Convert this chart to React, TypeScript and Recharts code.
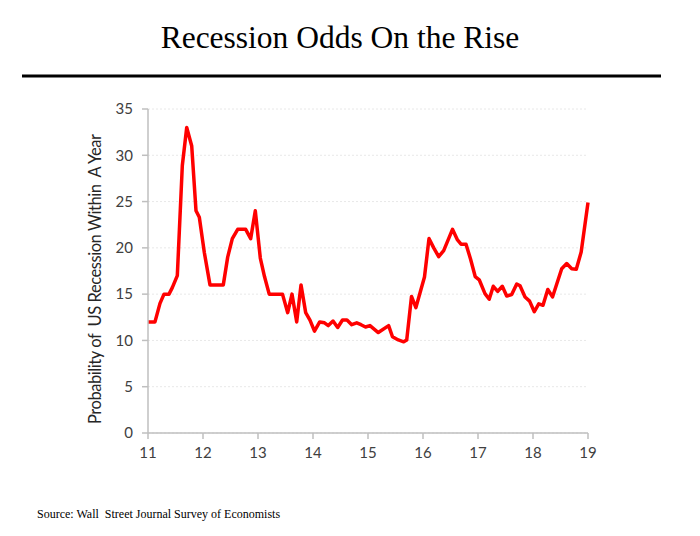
import { LineChart, Line, XAxis, YAxis, CartesianGrid, Label } from 'recharts'

// survey dates as decimal years (11 = 2011) and recession odds in percent
const surveyDates = [
  11.0, 11.127, 11.218, 11.291, 11.382, 11.442, 11.533, 11.624, 11.704, 11.795,
  11.873, 11.933, 12.024, 12.127, 12.369, 12.449, 12.533, 12.631, 12.776, 12.867,
  12.951, 13.042, 13.118, 13.204, 13.445, 13.54, 13.618, 13.704, 13.782, 13.867,
  13.945, 14.027, 14.122, 14.209, 14.278, 14.364, 14.449, 14.536, 14.618, 14.704,
  14.795, 14.873, 14.955, 15.036, 15.187, 15.375, 15.445, 15.551, 15.649, 15.704,
  15.791, 15.871, 16.027, 16.109, 16.195, 16.285, 16.376, 16.536, 16.627, 16.691,
  16.782, 16.864, 16.949, 17.022, 17.127, 17.204, 17.278, 17.358, 17.442, 17.522,
  17.613, 17.704, 17.764, 17.855, 17.938, 18.024, 18.104, 18.182, 18.269, 18.355,
  18.522, 18.613, 18.704, 18.787, 18.876, 19.0,
]

const recessionOdds = [
  12, 12, 14, 15, 15, 15.7, 17, 28.9, 33, 31,
  24, 23.3, 19.5, 16, 16, 19, 21, 22, 22, 21,
  24, 18.9, 16.9, 15, 15, 13, 15, 12, 16, 13,
  12.2, 11, 12, 11.9, 11.6, 12.1, 11.4, 12.2, 12.2, 11.7,
  11.9, 11.7, 11.45, 11.6, 10.85, 11.6, 10.4, 10.05, 9.85, 10.05,
  14.75, 13.55, 16.85, 21, 20, 19.05, 19.7, 22, 20.85, 20.4,
  20.4, 18.8, 16.9, 16.55, 15.05, 14.45, 15.85, 15.3, 15.85, 14.8,
  14.95, 16.1, 15.9, 14.7, 14.25, 13.1, 13.95, 13.8, 15.5, 14.7,
  17.75, 18.3, 17.75, 17.7, 19.55, 24.9,
]

const yearTicks = [11, 12, 13, 14, 15, 16, 17, 18, 19]
const oddsTicks = [0, 5, 10, 15, 20, 25, 30, 35]

const data = surveyDates.map((t, i) => ({ t, odds: recessionOdds[i] }))

const axisFont = 'Lato, "Open Sans", sans-serif'
const serif = '"Liberation Serif", "Times New Roman", serif'

export default function App() {
  return (
    <div style={{ position: 'absolute', left: 0, top: 0, width: 700, height: 536, background: '#fff' }}>
      <LineChart
        width={700}
        height={536}
        data={data}
        margin={{ top: 109, right: 112, left: 88, bottom: 73 }}
      >
        <CartesianGrid vertical={false} stroke="#e8e8e8" strokeDasharray="2 2" />
        <XAxis
          dataKey="t"
          type="number"
          domain={[11, 19]}
          ticks={yearTicks}
          height={30}
          axisLine={{ stroke: '#bfbfbf', strokeWidth: 1.5 }}
          tickLine={{ stroke: '#bfbfbf', strokeWidth: 1.5 }}
          tickSize={6}
          tickMargin={8}
          tick={{ fontSize: 15, fill: '#404040', fontFamily: axisFont }}
        />
        <YAxis
          type="number"
          domain={[0, 35]}
          ticks={oddsTicks}
          width={60}
          axisLine={{ stroke: '#bfbfbf', strokeWidth: 1.5 }}
          tickLine={{ stroke: '#bfbfbf', strokeWidth: 1.5 }}
          tickSize={6}
          tickMargin={9}
          tick={{ fontSize: 15, fill: '#404040', fontFamily: axisFont }}
        >
          <Label
            content={({ viewBox }: any) => {
              const cx = viewBox.x + 7
              const cy = viewBox.y + viewBox.height / 2 + 8
              return (
                <text
                  x={cx}
                  y={cy}
                  transform={`rotate(-90 ${cx} ${cy})`}
                  textAnchor="middle"
                  dominantBaseline="central"
                  fontSize={16.5}
                  textLength={290}
                  lengthAdjust="spacing"
                  fill="#262626"
                  fontFamily={axisFont}
                  style={{ whiteSpace: 'pre' }}
                >
                  {'Probability of  US Recession Within  A Year'}
                </text>
              )
            }}
          />
        </YAxis>
        <Line
          type="linear"
          dataKey="odds"
          stroke="#ff0000"
          strokeWidth={3.5}
          strokeLinejoin="round"
          dot={false}
          activeDot={false}
          isAnimationActive={false}
        />
      </LineChart>
      <svg
        width={700}
        height={536}
        style={{ position: 'absolute', left: 0, top: 0, pointerEvents: 'none' }}
      >
        <text x={340} y={48} textAnchor="middle" fontSize={31.5} fontFamily={serif} fill="#000">
          Recession Odds On the Rise
        </text>
        <line x1={22} x2={661} y1={76} y2={76} stroke="#000" strokeWidth={3} />
        <text x={37} y={518} fontSize={12} fontFamily={serif} fill="#000" style={{ whiteSpace: 'pre' }}>
          {'Source: Wall  Street Journal Survey of Economists'}
        </text>
      </svg>
    </div>
  )
}
